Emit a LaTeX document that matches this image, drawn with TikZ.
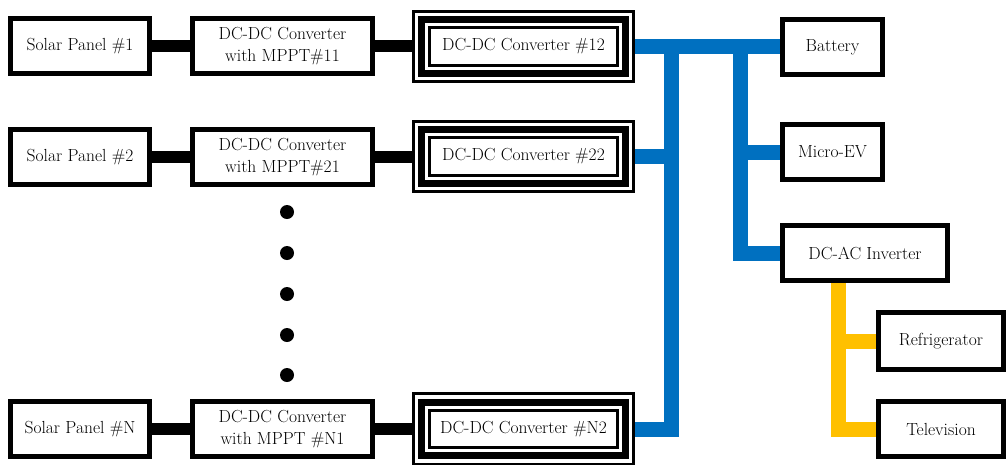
\documentclass[tikz,border=0pt]{standalone}
\usepackage{fontspec}
\setmainfont{Latin Modern Roman}
\pgfdeclarelayer{background}
\pgfsetlayers{background,main}
\definecolor{dcbus}{RGB}{0,112,192}
\definecolor{acbus}{RGB}{255,192,0}
\begin{document}
\begin{tikzpicture}[x=1pt,y=1pt,
  lbl/.style={font=\rmfamily\fontsize{17.5}{22}\selectfont, align=center, inner sep=0pt},
  box/.style={lbl, draw, line width=5pt, minimum height=55pt},
  conv/.style={lbl, minimum width=223pt, minimum height=73pt},
  wire/.style={line width=12pt, black},
  bus/.style={line width=15pt, dcbus, line join=miter},
  acline/.style={line width=15pt, acbus, line join=miter},
  ring/.style={black}
]
\useasboundingbox (0,0) rectangle (1008,-464);

% PV strings: panel -> MPPT converter -> isolated converter
\node[box, minimum width=139pt] (sp1) at (80,-46) {Solar Panel \#1};
\node[box, minimum width=139pt] (sp2) at (80,-157) {Solar Panel \#2};
\node[box, minimum width=139pt] (spN) at (80,-429) {Solar Panel \#N};

\node[box, minimum width=180pt] (m11) at (282.5,-46) {DC-DC Converter\\with MPPT\#11};
\node[box, minimum width=180pt] (m21) at (282.5,-157) {DC-DC Converter\\with MPPT\#21};
\node[box, minimum width=180pt] (mN1) at (282.5,-429) {DC-DC Converter\\with MPPT \#N1};

\node[conv] (c12) at (523.5,-46.5) {DC-DC Converter \#12};
\node[conv] (c22) at (523.5,-156.5) {DC-DC Converter \#22};
\node[conv] (cN2) at (523.5,-429) {DC-DC Converter \#N2};

% triple frame of the isolated converters
\foreach \n in {c12,c22,cN2}{
  \draw[ring, line width=3pt] ([shift={(1.5,-1.5)}]\n.north west) rectangle ([shift={(-1.5,1.5)}]\n.south east);
  \draw[ring, line width=7pt] ([shift={(10,-10)}]\n.north west) rectangle ([shift={(-10,10)}]\n.south east);
  \draw[ring, line width=3pt] ([shift={(18,-18)}]\n.north west) rectangle ([shift={(-18,18)}]\n.south east);
}

% more strings in between
\foreach \yy in {212,253,294,335,375}
  \fill (287,-\yy) circle (7);

% loads
\node[box, minimum width=100pt] (bat) at (832.5,-47) {Battery};
\node[box, minimum width=100pt] (mev) at (832.5,-152) {Micro-EV};
\node[box, minimum width=165pt] (inv) at (865,-253) {DC-AC Inverter};
\node[box, minimum width=125pt, minimum height=57pt] (ref) at (941,-341) {Refrigerator};
\node[box, minimum width=125pt] (tv) at (941,-429) {Television};

\coordinate (j1) at (671.5,-46.5);
\coordinate (j2) at (740.5,-46.5);
\coordinate (y0) at ([xshift=-27pt]inv.south);

\begin{pgfonlayer}{background}
  % string wiring
  \draw[wire] (sp1.east) -- (sp1.east -| m11.west);
  \draw[wire] (sp2.east) -- (sp2.east -| m21.west);
  \draw[wire] (spN.east) -- (spN.east -| mN1.west);
  \draw[wire] (m11.east) -- (m11.east -| c12.west);
  \draw[wire] (m21.east) -- (m21.east -| c22.west);
  \draw[wire] (mN1.east) -- (mN1.east -| cN2.west);
  % DC bus
  \draw[bus] (c12.east) -- (c12.east -| bat.west);
  \draw[bus] (c22.east) -- (c22.east -| j1);
  \draw[bus] (cN2.east) -| (j1);
  \draw[bus] (mev.west) -- (mev.west -| j2);
  \draw[bus] (inv.west) -| (j2);
  % AC side
  \draw[acline] (y0) |- (tv.west);
  \draw[acline] (ref.west) -- (ref.west -| y0);
\end{pgfonlayer}
\end{tikzpicture}
\end{document}
